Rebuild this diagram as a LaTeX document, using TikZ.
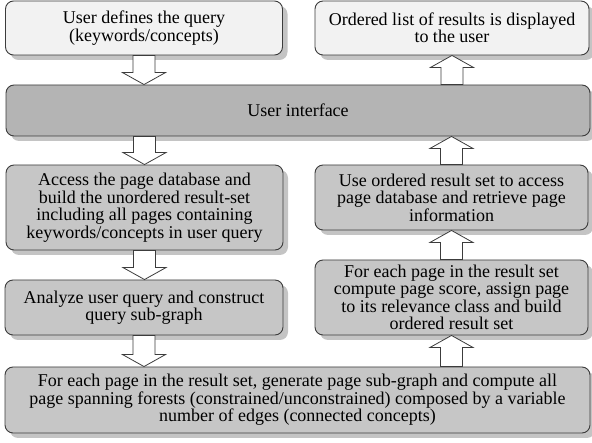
\documentclass[tikz,border=0pt]{standalone}
\usepackage{fontspec}
\setmainfont{Liberation Serif}
\usetikzlibrary{shadows,calc}
\definecolor{lightfill}{HTML}{F2F2F2}
\definecolor{greyfill}{HTML}{C6C6C6}
\definecolor{uifill}{HTML}{B4B4B4}
\definecolor{edgecol}{HTML}{3C3C3C}
\definecolor{shadowcol}{HTML}{C4C4C4}
\tikzset{
  procbox/.style={draw=edgecol, line width=0.9pt, rounded corners=8pt, fill=greyfill,
    inner sep=0pt, align=center, anchor=center,
    font=\fontsize{18}{17.5}\selectfont,
    drop shadow={shadow xshift=5pt, shadow yshift=-5pt, fill=shadowcol, opacity=1}},
  lightbox/.style={procbox, fill=lightfill},
  uibox/.style={procbox, fill=uifill},
  blk/.style={draw=edgecol, line width=0.8pt, fill=white, line join=miter}
}
\newcommand{\blkdown}[2]{\path[blk] let \p1=#1, \p2=#2 in
  (\x1-11pt,\y1) -- (\x1+11pt,\y1) -- (\x1+11pt,\y2+12pt) -- (\x1+21.5pt,\y2+12pt)
  -- (\x1,\y2) -- (\x1-21.5pt,\y2+12pt) -- (\x1-11pt,\y2+12pt) -- cycle;}
\newcommand{\blkup}[2]{\path[blk] let \p1=#1, \p2=#2 in
  (\x1-11pt,\y1) -- (\x1+11pt,\y1) -- (\x1+11pt,\y2-12pt) -- (\x1+21.5pt,\y2-12pt)
  -- (\x1,\y2) -- (\x1-21.5pt,\y2-12pt) -- (\x1-11pt,\y2-12pt) -- cycle;}
\begin{document}
\begin{tikzpicture}[x=1pt,y=-1pt]
\useasboundingbox (0,0) rectangle (592,443);
% top row
\node[lightbox, minimum width=277pt, minimum height=54pt] (q) at (144,28)
  {User defines the query\\(keywords/concepts)};
\node[lightbox, minimum width=274pt, minimum height=54pt] (res) at (452,28)
  {Ordered list of results is displayed\\to the user};
% user interface
\node[uibox, minimum width=584pt, minimum height=51pt] (ui) at (298,110.5)
  {User interface};
% left column
\node[procbox, minimum width=277pt, minimum height=85pt] (acc) at (144.5,207.5)
  {Access the page database and\\build the unordered result-set\\including all pages containing\\keywords/concepts in user query};
\node[procbox, minimum width=278pt, minimum height=55pt] (ana) at (144,307.5)
  {Analyze user query and construct\\query sub-graph};
% right column
\node[procbox, minimum width=273pt, minimum height=65pt] (use) at (451.5,197.5)
  {Use ordered result set to access\\page database and retrieve page\\information};
\node[procbox, minimum width=273pt, minimum height=75pt] (score) at (451.5,297.5)
  {For each page in the result set\\compute page score, assign page\\to its relevance class and build\\ordered result set};
% bottom
\node[procbox, minimum width=585pt, minimum height=66pt] (forest) at (297.5,400)
  {For each page in the result set, generate page sub-graph and compute all\\page spanning forests (constrained/unconstrained) composed by a variable\\number of edges (connected concepts)};
% block arrows
\blkdown{(q.south)}{(q.south |- ui.north)}
\blkdown{(acc.north |- ui.south)}{(acc.north)}
\blkdown{(acc.south)}{(ana.north)}
\blkdown{(ana.south)}{(ana.south |- forest.north)}
\blkup{(score.south |- forest.north)}{(score.south)}
\blkup{(score.north)}{(use.south)}
\blkup{(use.north)}{(use.north |- ui.south)}
\blkup{(res.south |- ui.north)}{(res.south)}
\end{tikzpicture}
\end{document}
